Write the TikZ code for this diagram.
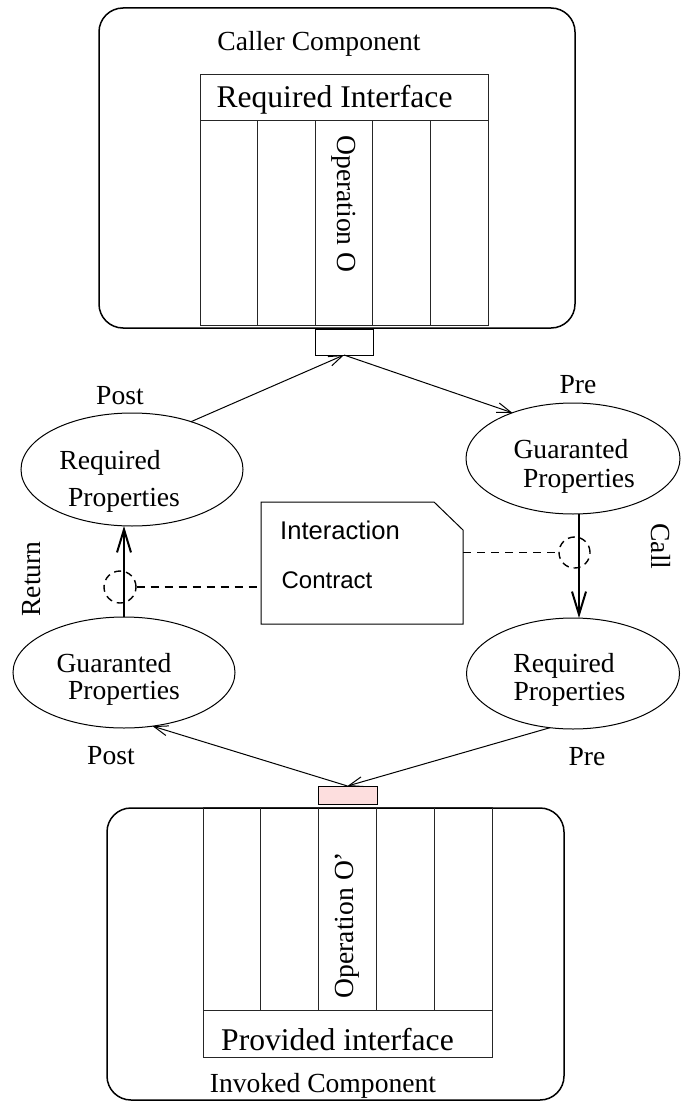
\documentclass[tikz,border=0pt]{standalone}
\usepackage{fontspec}
\setmainfont{Liberation Serif}
\newfontfamily\notefont{Liberation Sans}
\usetikzlibrary{shapes.geometric,arrows.meta,calc}

\tikzset{
  comp/.style={draw, line width=0.75pt, rounded corners=12pt, inner sep=0pt, outer sep=0pt},
  cell/.style={draw=black!85, line width=0.5pt, inner sep=0pt, outer sep=0pt},
  prop/.style={ellipse, draw, line width=0.5pt, inner sep=0pt, outer sep=0pt},
  txt/.style={font=\fontsize{13.8}{16}\selectfont, inner sep=0pt, anchor=base},
  bigtxt/.style={font=\fontsize{15.8}{18}\selectfont, inner sep=0pt, anchor=base},
  rot/.style={font=\fontsize{13.8}{16}\selectfont, inner sep=0pt},
  flow/.style={line width=0.5pt, -{Straight Barb[length=7pt,width=5pt]}},
  bigflow/.style={line width=1pt, -{Straight Barb[length=11.5pt,width=7pt]}},
  tap/.style={circle, draw, line width=0.7pt, dash pattern=on 3.5pt off 2.5pt, inner sep=0pt, minimum size=16pt},
  link/.style={line width=0.7pt, dash pattern=on 4pt off 3pt}
}

\begin{document}
\begin{tikzpicture}[x=0.5pt, y=-0.5pt]
\useasboundingbox (0,0) rectangle (681,1102);

% ---------- caller component ----------
\node[comp, minimum width=238pt, minimum height=160pt] (caller) at (337,168) {};
\node[txt] (callername) at (319,51) {Caller Component};
\node[cell, minimum width=144pt, minimum height=23pt] (reqif) at (344,98) {};
\node[bigtxt] (reqifname) at (334.5,107) {Required Interface};
\foreach \i in {1,...,5}
  \node[cell, minimum width=28.8pt, minimum height=102pt] (top\i) at ({200+57.6*(\i-0.5)},223) {};
\node[rot, rotate=-90] (opO) at (344,204) {Operation O};
\node[cell, draw=black, minimum width=29pt, minimum height=13pt] (port) at (344,342) {};

% ---------- property ellipses ----------
\node[prop, minimum width=111pt, minimum height=56.5pt] (rpL) at (132,469.5) {};
\node[prop, minimum width=107pt, minimum height=55.5pt] (gpR) at (573,458.5) {};
\node[prop, minimum width=111pt, minimum height=55.5pt] (gpL) at (124,672.5) {};
\node[prop, minimum width=106.5pt, minimum height=55.5pt] (rpR) at (573,673.5) {};

\node[txt] (rpLa) at (110,469) {Required};
\node[txt] (rpLb) at (124,506) {Properties};
\node[txt] (gpRa) at (571,458) {Guaranted};
\node[txt] (gpRb) at (579,487) {Properties};
\node[txt] (gpLa) at (114,672) {Guaranted};
\node[txt] (gpLb) at (124,699) {Properties};
\node[txt] (rpRa) at (564,672) {Required};
\node[txt] (rpRb) at (569.5,700) {Properties};

\node[txt] (postTop) at (120,404) {Post};
\node[txt] (preTop) at (578,393) {Pre};
\node[txt] (postBot) at (111,764) {Post};
\node[txt] (preBot) at (587,765) {Pre};
\node[rot, rotate=90] (ret) at (32,579) {Return};
\node[rot, rotate=-90] (call) at (661,546.5) {Call};

% ---------- interaction contract note ----------
\node[minimum width=101pt, minimum height=61pt, inner sep=0pt, outer sep=0pt] (contract) at (362,563) {};
\draw[line width=0.5pt] (contract.north west) -- ([xshift=-14.5pt]contract.north east)
  -- ([yshift=-14pt]contract.north east) -- (contract.south east)
  -- (contract.south west) -- cycle;
\node[font=\notefont\fontsize{12.8}{15}\selectfont, inner sep=0pt, anchor=base] (ctA) at (340,539) {Interaction};
\node[font=\notefont\fontsize{12}{14}\selectfont, inner sep=0pt, anchor=base] (ctB) at (327,588) {Contract};

% ---------- invoked component ----------
\node[comp, minimum width=228.5pt, minimum height=146pt] (invoked) at (335.5,954) {};
\foreach \i in {1,...,5}
  \node[cell, minimum width=28.9pt, minimum height=101.5pt] (bot\i) at ({203+57.8*(\i-0.5)},908.5) {};
\node[rot, rotate=90] (opOp) at (347.5,925) {Operation O'};
\node[cell, minimum width=144.5pt, minimum height=23.5pt] (provif) at (347.5,1033.5) {};
\node[bigtxt] (provifname) at (337.5,1050) {Provided interface};
\node[txt] (invokedname) at (323,1092) {Invoked Component};
\node[cell, draw=black, fill={rgb,255:red,253;green,222;blue,222}, minimum width=29.5pt, minimum height=9pt] (pport) at (347.5,795) {};

% ---------- call / return flows ----------
\draw[flow] (rpL.39) -- (port.south);
\draw[flow] (port.south) -- (gpR.143);
\draw[bigflow] ([xshift=3pt]gpR.south) -- ([xshift=3pt]gpR.south |- rpR.north);
\draw[flow] (rpR.247) -- (pport.north);
\draw[flow] (pport.north) -- (gpL.298);
\draw[bigflow] (gpL.north) -- (gpL.north |- rpL.south);

% ---------- contract taps ----------
\node[tap] (tapL) at (120,587) {};
\node[tap, minimum size=15.5pt] (tapR) at (574.5,552.5) {};
\draw[link] (tapL.east) -- (tapL.east -| contract.west);
\draw[link] (tapR.west -| contract.east) -- (tapR.west);
\end{tikzpicture}
\end{document}
